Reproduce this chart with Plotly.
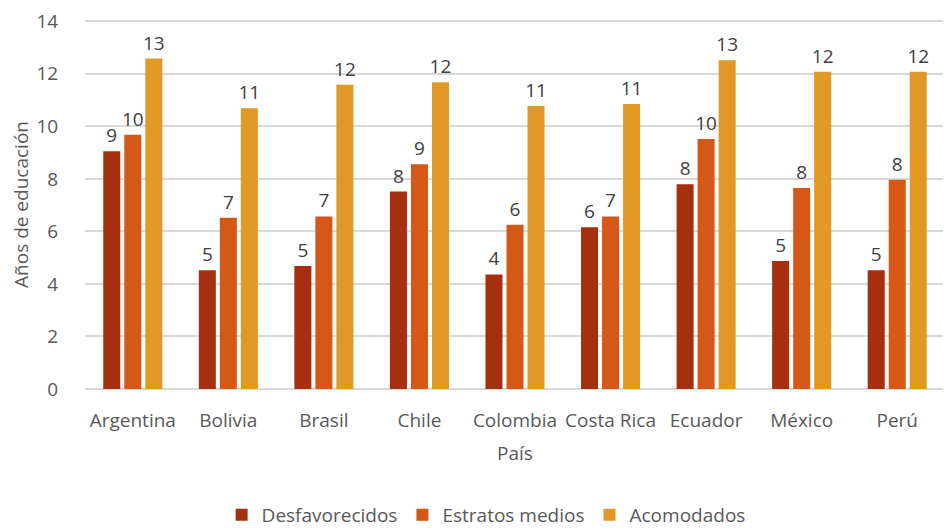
import plotly.graph_objects as go

# Años de educación por país y estrato
paises = ['Argentina', 'Bolivia', 'Brasil', 'Chile', 'Colombia',
          'Costa Rica', 'Ecuador', 'México', 'Perú']
desfavorecidos = [9.05, 4.52, 4.68, 7.52, 4.36, 6.16, 7.80, 4.87, 4.52]
estratos_medios = [9.68, 6.52, 6.57, 8.56, 6.25, 6.57, 9.52, 7.65, 7.97]
acomodados = [12.58, 10.69, 11.58, 11.68, 10.78, 10.85, 12.52, 12.08, 12.08]

series = [
    ('Desfavorecidos', desfavorecidos, '#A5300F'),
    ('Estratos medios', estratos_medios, '#D55816'),
    ('Acomodados', acomodados, '#E19825'),
]

font_family = 'Open Sans'
txt = '#595959'

fig = go.Figure()
for name, vals, color in series:
    fig.add_trace(go.Bar(
        x=paises, y=vals, name=name,
        marker=dict(color=color, line=dict(width=0)),
        texttemplate='%{y:.0f}', textposition='outside',
        constraintext='none',
        textfont=dict(size=19, color='#404040', family=font_family),
        cliponaxis=False,
    ))

# the page body adds an 8px margin, so the figure is 8px smaller
fig.update_layout(
    width=943, height=521,
    margin=dict(l=77, r=6, t=12, b=140, autoexpand=False),
    barmode='group', bargap=0.34, bargroupgap=0.19,
    plot_bgcolor='white', paper_bgcolor='white',
    font=dict(family=font_family, size=18, color=txt),
    legend=dict(orientation='h', x=0.507, xanchor='center', xref='container',
                y=0.027, yanchor='middle', yref='container',
                font=dict(size=19, color=txt),
                itemwidth=30, traceorder='normal'),
    xaxis=dict(
        title=dict(text='País', font=dict(size=19, color=txt), standoff=14),
        showgrid=False, showline=False, automargin=False,
        ticks='outside', ticklen=14, tickcolor='rgba(0,0,0,0)',
        tickfont=dict(size=19, color=txt),
    ),
    yaxis=dict(
        title=dict(text='Años de educación', font=dict(size=19, color=txt), standoff=16),
        range=[0, 14.05], dtick=2, automargin=False,
        ticklabeloverflow='allow',
        showgrid=True, gridcolor='#D9D9D9', gridwidth=1.5,
        zeroline=True, zerolinecolor='#D9D9D9', zerolinewidth=1.5,
        showline=False,
        ticks='outside', ticklen=22, tickcolor='rgba(0,0,0,0)',
        tickfont=dict(size=19, color=txt),
    ),
)

fig.write_html('out.html')
